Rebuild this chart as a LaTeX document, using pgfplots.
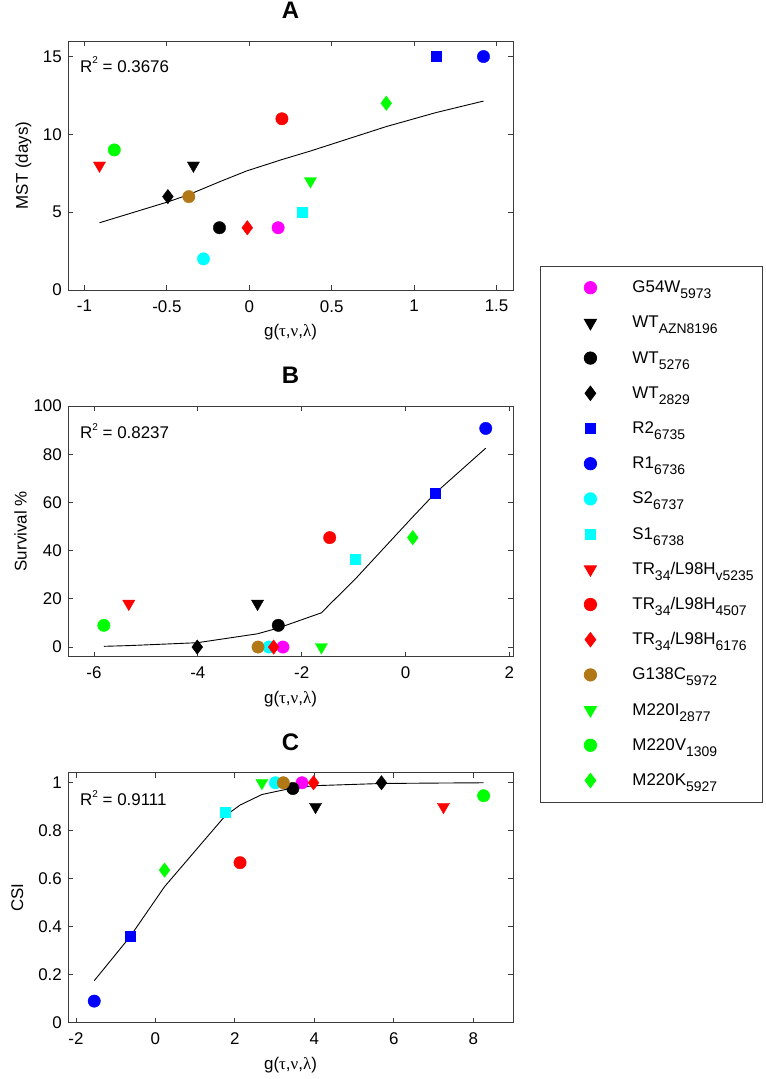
\documentclass[border=0pt]{standalone}
\usepackage{pgfplots}
\pgfplotsset{compat=1.18}
\usepackage{fontspec}
\setmainfont{Liberation Sans}
\newfontfamily\grk{Liberation Serif}
\definecolor{cMag}{RGB}{255,0,255}
\definecolor{cCyan}{RGB}{0,255,255}
\definecolor{cBrown}{RGB}{178,120,22}
\definecolor{cGreen}{RGB}{0,255,0}
\definecolor{cRed}{RGB}{255,0,0}
\definecolor{cBlue}{RGB}{0,0,255}
\definecolor{axgray}{RGB}{60,60,60}
\newcommand\sub[1]{\raisebox{-6bp}{\fontsize{14}{14}\selectfont #1}}
\newcommand\lgbox[1]{\makebox[130bp][l]{#1}}
\newcommand\glab{g({\grk τ},{\grk ν},{\grk λ})}
\newcommand\rsq[1]{R\raisebox{8.5bp}{\fontsize{10}{10}\selectfont 2} = #1}
\pgfplotsset{
  mk/.style={only marks, legend image code/.code={\path[draw=none,fill=none] (-50bp,5bp) -- (42bp,5bp); \draw[##1] plot coordinates {(0bp,5bp)};}},
  sCirc/.style={mk, mark=*, mark size=6.2bp, color=#1, mark options={solid}},
  sSq/.style={mk, mark=square*, mark size=5bp, color=#1, mark options={solid}},
  sTri/.style={mk, mark=triangle*, mark size=7bp, color=#1, mark options={solid,rotate=180}},
  sDia/.style={mk, mark=diamond*, mark size=7.2bp, color=#1, mark options={solid}},
  fit/.style={black, line width=0.9bp, forget plot, mark=none},
  myaxis/.style={scale only axis, width=445bp, anchor=south west,
    font=\fontsize{17}{20}\selectfont,
    /pgf/number format/assume math mode=true,
    tick align=inside, major tick length=5bp,
    axis line style={axgray, line width=0.8bp},
    every tick/.append style={axgray, line width=0.8bp},
    xticklabel style={inner sep=0pt, anchor=north, yshift=-10bp},
    yticklabel style={inner sep=0pt, anchor=east, xshift=-6bp},
    xlabel style={inner sep=0pt, at={(axis description cs:0.5,0)}, anchor=base, yshift=-47bp},
    title style={font=\bfseries\fontsize{24}{28}\selectfont, inner sep=0pt, at={(axis description cs:0.5,1)}, anchor=base, yshift=16.5bp},
    ylabel style={inner sep=0pt, anchor=base},
    xlabel={\glab},
  },
}
\begin{document}
\begin{tikzpicture}[x=1bp,y=1bp]
\useasboundingbox (0,0) rectangle (766,1079);
% ---------------- Panel A ----------------
\begin{axis}[myaxis, at={(68bp,789bp)}, height=249bp,
  xmin=-1.1, xmax=1.6, ymin=0, ymax=16,
  xtick={-1,-0.5,0,0.5,1,1.5}, ytick={0,5,10,15},
  title={A}, ylabel={MST (days)},
  ylabel style={at={(axis description cs:-0.0899,0.5)}},
  legend style={at={(axis description cs:1.0607,0.0964)}, anchor=north west,
    draw=axgray, line width=0.8bp, inner xsep=0pt, inner ysep=4bp,
    font=\fontsize{17}{20}\selectfont, row sep=0pt, column sep=0pt,
    cells={anchor=base west},
    nodes={inner sep=0pt, text height=22.3bp, text depth=12.9bp}},
  legend entries={\lgbox{G54W\sub{5973}}, \lgbox{WT\sub{AZN8196}}, \lgbox{WT\sub{5276}}, \lgbox{WT\sub{2829}},
    \lgbox{R2\sub{6735}}, \lgbox{R1\sub{6736}}, \lgbox{S2\sub{6737}}, \lgbox{S1\sub{6738}},
    \lgbox{TR\sub{34}/L98H\sub{v5235}}, \lgbox{TR\sub{34}/L98H\sub{4507}}, \lgbox{TR\sub{34}/L98H\sub{6176}},
    \lgbox{G138C\sub{5972}}, \lgbox{M220I\sub{2877}}, \lgbox{M220V\sub{1309}}, \lgbox{M220K\sub{5927}}},
]
\addplot[fit] coordinates {(-0.909,4.32) (-0.494,5.66) (-0.367,6.13) (-0.181,6.95) (-0.016,7.65) (0.198,8.38) (0.371,8.93) (0.831,10.5) (1.133,11.4) (1.421,12.14)};
\addplot[sCirc=cMag] coordinates {(0.175,4)};
\addplot[sTri=black] coordinates {(-0.339,8)};
\addplot[sCirc=black] coordinates {(-0.181,4)};
\addplot[sDia=black] coordinates {(-0.494,6)};
\addplot[sSq=cBlue] coordinates {(1.133,15)};
\addplot[sCirc=cBlue] coordinates {(1.421,15)};
\addplot[sCirc=cCyan] coordinates {(-0.278,2)};
\addplot[sSq=cCyan] coordinates {(0.323,5)};
\addplot[sTri=cRed] coordinates {(-0.909,8)};
\addplot[sCirc=cRed] coordinates {(0.198,11)};
\addplot[sDia=cRed] coordinates {(-0.012,4)};
\addplot[sCirc=cBrown] coordinates {(-0.367,6)};
\addplot[sTri=cGreen] coordinates {(0.371,7)};
\addplot[sCirc=cGreen] coordinates {(-0.819,9)};
\addplot[sDia=cGreen] coordinates {(0.831,12)};
\node[anchor=base west, inner sep=0pt, xshift=12bp, yshift=-31.5bp] at (rel axis cs:0,1) {\rsq{0.3676}};
\end{axis}
% ---------------- Panel B ----------------
\begin{axis}[myaxis, at={(68bp,422.3bp)}, height=250.7bp,
  xmin=-6.5, xmax=2.07, ymin=-4, ymax=100,
  xtick={-6,-4,-2,0,2}, ytick={0,20,40,60,80,100},
  title={B}, ylabel={Survival \%},
  ylabel style={at={(axis description cs:-0.0928,0.5)}},
]
\addplot[fit] coordinates {(-5.81,0.3) (-5.33,0.6) (-4.01,1.8) (-2.85,5.5) (-2.45,7.9) (-1.62,14.2) (-1.46,17.7) (-0.96,28.4) (0.14,54) (0.58,64) (1.545,82.5)};
\addplot[sCirc=cMag] coordinates {(-2.36,0)};
\addplot[sTri=black] coordinates {(-2.85,18)};
\addplot[sCirc=black] coordinates {(-2.45,9)};
\addplot[sDia=black] coordinates {(-4.01,0)};
\addplot[sSq=cBlue] coordinates {(0.58,63.7)};
\addplot[sCirc=cBlue] coordinates {(1.545,90.7)};
\addplot[sCirc=cCyan] coordinates {(-2.63,0)};
\addplot[sSq=cCyan] coordinates {(-0.96,36.3)};
\addplot[sTri=cRed] coordinates {(-5.33,18)};
\addplot[sCirc=cRed] coordinates {(-1.46,45.4)};
\addplot[sDia=cRed] coordinates {(-2.54,0)};
\addplot[sCirc=cBrown] coordinates {(-2.84,0)};
\addplot[sTri=cGreen] coordinates {(-1.62,0)};
\addplot[sCirc=cGreen] coordinates {(-5.81,9)};
\addplot[sDia=cGreen] coordinates {(0.14,45.4)};
\node[anchor=base west, inner sep=0pt, xshift=12bp, yshift=-33bp] at (rel axis cs:0,1) {\rsq{0.8237}};
\end{axis}
% ---------------- Panel C ----------------
\begin{axis}[myaxis, at={(68bp,56.3bp)}, height=250bp,
  xmin=-2.2, xmax=9, ymin=0, ymax=1.042,
  xtick={-2,0,2,4,6,8}, ytick={0,0.2,0.4,0.6,0.8,1},
  title={C}, ylabel={CSI},
  ylabel style={at={(axis description cs:-0.1011,0.5)}},
]
\addplot[fit] coordinates {(-1.54,0.175) (-0.64,0.358) (0.23,0.567) (1.75,0.861) (2.13,0.907) (2.68,0.951) (3.02,0.963) (3.22,0.970) (3.46,0.979) (3.69,0.983) (3.98,0.987) (4.03,0.988) (5.69,0.997) (7.25,0.999) (8.26,1.0)};
\addplot[sCirc=cMag] coordinates {(3.69,1)};
\addplot[sTri=black] coordinates {(4.03,0.9)};
\addplot[sCirc=black] coordinates {(3.46,0.976)};
\addplot[sDia=black] coordinates {(5.69,1)};
\addplot[sSq=cBlue] coordinates {(-0.64,0.361)};
\addplot[sCirc=cBlue] coordinates {(-1.54,0.09)};
\addplot[sCirc=cCyan] coordinates {(3.02,1)};
\addplot[sSq=cCyan] coordinates {(1.75,0.879)};
\addplot[sTri=cRed] coordinates {(7.25,0.9)};
\addplot[sCirc=cRed] coordinates {(2.13,0.667)};
\addplot[sDia=cRed] coordinates {(3.98,1)};
\addplot[sCirc=cBrown] coordinates {(3.22,1)};
\addplot[sTri=cGreen] coordinates {(2.68,1)};
\addplot[sCirc=cGreen] coordinates {(8.26,0.946)};
\addplot[sDia=cGreen] coordinates {(0.23,0.636)};
\node[anchor=base west, inner sep=0pt, xshift=12bp, yshift=-33bp] at (rel axis cs:0,1) {\rsq{0.9111}};
\end{axis}
\end{tikzpicture}
\end{document}
